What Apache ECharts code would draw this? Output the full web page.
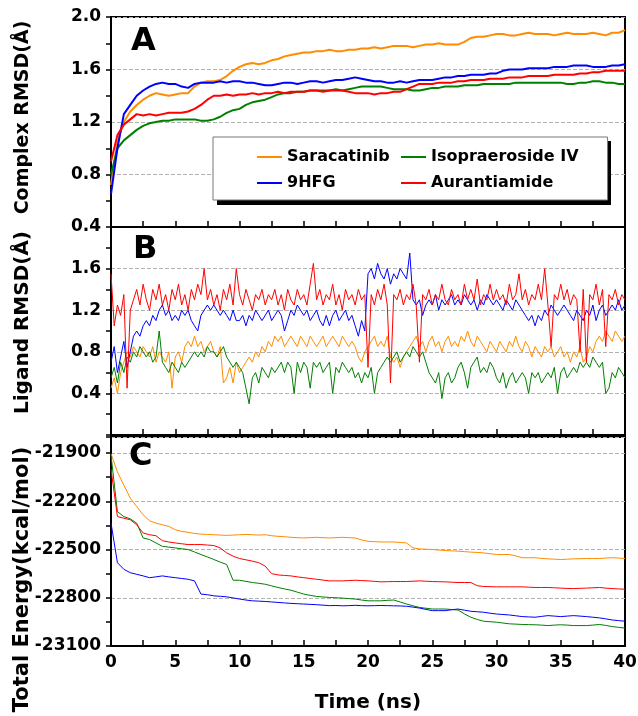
<!DOCTYPE html>
<html>
<head>
<meta charset="utf-8">
<script src="https://cdn.jsdelivr.net/npm/echarts@6/dist/echarts.min.js"></script>
<style>
  html, body { margin: 0; padding: 0; background: #fff; }
  #container { width: 638px; height: 716px; }
</style>
</head>
<body>
<div id="container"></div>
<script>
var names = ["Saracatinib", "Isopraeroside IV", "9HFG", "Aurantiamide"];
var colors = ["#ff8c00", "#008000", "#0000ff", "#ff0000"];
var font = "DejaVu Sans";

// sampling steps (ns)
var stepA = 0.5;
var stepB = 0.25;
var stepC = 0.5;

// A: complex RMSD, every 0.5 ns
var saraA = [
  0.72, 1.05, 1.20, 1.28, 1.33, 1.37, 1.40, 1.42, 1.41, 1.40,
  1.41, 1.42, 1.42, 1.47, 1.50, 1.51, 1.51, 1.52, 1.55, 1.59,
  1.62, 1.64, 1.65, 1.64, 1.65, 1.67, 1.68, 1.70, 1.71, 1.72,
  1.73, 1.73, 1.74, 1.74, 1.75, 1.74, 1.74, 1.75, 1.75, 1.76,
  1.76, 1.77, 1.76, 1.77, 1.78, 1.78, 1.78, 1.77, 1.78, 1.79,
  1.79, 1.80, 1.79, 1.79, 1.79, 1.81, 1.84, 1.85, 1.85, 1.86,
  1.87, 1.87, 1.86, 1.86, 1.87, 1.88, 1.87, 1.87, 1.87, 1.86,
  1.87, 1.88, 1.87, 1.87, 1.87, 1.88, 1.87, 1.86, 1.88, 1.88,
  1.90
];
var isoA = [
  0.80, 1.00, 1.06, 1.10, 1.14, 1.17, 1.19, 1.20, 1.21, 1.21,
  1.22, 1.22, 1.22, 1.22, 1.21, 1.21, 1.22, 1.24, 1.27, 1.29,
  1.30, 1.33, 1.35, 1.36, 1.37, 1.39, 1.41, 1.42, 1.42, 1.43,
  1.43, 1.44, 1.44, 1.44, 1.44, 1.45, 1.44, 1.45, 1.46, 1.47,
  1.47, 1.47, 1.47, 1.46, 1.45, 1.45, 1.45, 1.44, 1.44, 1.45,
  1.46, 1.46, 1.47, 1.47, 1.47, 1.48, 1.48, 1.48, 1.49, 1.49,
  1.49, 1.49, 1.49, 1.50, 1.50, 1.50, 1.50, 1.50, 1.50, 1.50,
  1.50, 1.49, 1.49, 1.50, 1.50, 1.51, 1.51, 1.50, 1.50, 1.49,
  1.49
];
var hfgA = [
  0.65, 1.00, 1.26, 1.33, 1.40, 1.44, 1.47, 1.49, 1.50, 1.49,
  1.49, 1.47, 1.46, 1.49, 1.50, 1.50, 1.50, 1.51, 1.50, 1.51,
  1.51, 1.50, 1.50, 1.49, 1.48, 1.48, 1.49, 1.50, 1.50, 1.49,
  1.50, 1.51, 1.51, 1.50, 1.51, 1.52, 1.52, 1.53, 1.54, 1.53,
  1.52, 1.51, 1.51, 1.50, 1.50, 1.51, 1.50, 1.51, 1.52, 1.52,
  1.52, 1.53, 1.54, 1.54, 1.55, 1.55, 1.56, 1.56, 1.56, 1.57,
  1.57, 1.59, 1.60, 1.60, 1.60, 1.61, 1.61, 1.61, 1.61, 1.62,
  1.62, 1.62, 1.63, 1.63, 1.63, 1.62, 1.62, 1.62, 1.63, 1.63,
  1.64
];
var auraA = [
  0.90, 1.10, 1.18, 1.22, 1.26, 1.25, 1.26, 1.25, 1.26, 1.27,
  1.27, 1.27, 1.28, 1.30, 1.33, 1.37, 1.40, 1.40, 1.41, 1.40,
  1.41, 1.41, 1.42, 1.41, 1.42, 1.42, 1.43, 1.42, 1.43, 1.43,
  1.43, 1.44, 1.44, 1.43, 1.44, 1.44, 1.44, 1.43, 1.42, 1.42,
  1.42, 1.41, 1.42, 1.42, 1.43, 1.43, 1.45, 1.47, 1.49, 1.49,
  1.49, 1.50, 1.50, 1.50, 1.51, 1.51, 1.52, 1.52, 1.52, 1.53,
  1.53, 1.53, 1.54, 1.54, 1.54, 1.55, 1.55, 1.55, 1.55, 1.56,
  1.56, 1.56, 1.56, 1.57, 1.57, 1.58, 1.58, 1.59, 1.59, 1.59,
  1.59
];

// B: ligand RMSD, every 0.25 ns
var saraB = [
  0.45, 0.55, 0.40, 0.60, 0.70, 0.80, 0.75, 0.85,
  0.80, 0.75, 0.85, 0.80, 0.75, 0.85, 0.70, 0.80,
  0.75, 0.70, 0.80, 0.45, 0.75, 0.80, 0.70, 0.85,
  0.90, 0.85, 0.95, 0.85, 0.90, 0.80, 0.85, 0.90,
  0.80, 0.75, 0.85, 0.50, 0.55, 0.65, 0.50, 0.70,
  0.60, 0.65, 0.70, 0.75, 0.70, 0.80, 0.75, 0.85,
  0.80, 0.90, 0.85, 0.95, 0.90, 0.95, 0.85, 0.90,
  0.95, 0.90, 0.85, 0.95, 0.90, 0.85, 0.95, 0.90,
  0.85, 0.90, 0.95, 0.85, 0.90, 0.95, 0.90, 0.85,
  0.95, 0.90, 0.85, 0.90, 0.85, 0.75, 0.70, 0.80,
  0.85, 0.90, 0.95, 0.85, 0.90, 0.85, 0.95, 0.75,
  0.70, 0.75, 0.65, 0.75, 0.80, 0.85, 0.90, 0.95,
  0.85, 0.90, 0.80, 0.90, 0.95, 0.85, 0.90, 0.80,
  0.90, 0.95, 0.85, 0.90, 0.85, 0.95, 0.90, 1.00,
  0.90, 0.85, 0.95, 0.90, 0.85, 0.80, 0.90, 0.85,
  0.80, 0.90, 0.85, 0.80, 0.90, 0.85, 0.95, 0.85,
  0.80, 0.90, 0.85, 0.75, 0.85, 0.80, 0.75, 0.85,
  0.80, 0.85, 0.75, 0.80, 0.85, 0.75, 0.80, 0.70,
  0.80, 0.75, 0.85, 0.70, 0.75, 0.85, 0.80, 0.90,
  0.95, 0.90, 1.00, 0.95, 0.90, 1.00, 0.95, 0.90,
  0.95
];
var isoB = [
  0.55, 0.65, 0.50, 0.70, 0.60, 0.75, 0.70, 0.80,
  0.75, 0.85, 0.80, 0.75, 0.80, 0.70, 0.75, 1.00,
  0.70, 0.65, 0.60, 0.70, 0.65, 0.60, 0.70, 0.65,
  0.70, 0.75, 0.80, 0.75, 0.80, 0.75, 0.85, 0.80,
  0.80, 0.75, 0.80, 0.85, 0.75, 0.70, 0.65, 0.70,
  0.65, 0.60, 0.45, 0.30, 0.55, 0.60, 0.50, 0.65,
  0.60, 0.55, 0.65, 0.60, 0.65, 0.70, 0.60, 0.70,
  0.65, 0.40, 0.70, 0.60, 0.70, 0.65, 0.45, 0.70,
  0.65, 0.70, 0.60, 0.65, 0.70, 0.40, 0.65, 0.60,
  0.70, 0.65, 0.60, 0.65, 0.55, 0.60, 0.50, 0.60,
  0.55, 0.65, 0.40, 0.60, 0.65, 0.70, 0.75, 0.70,
  0.75, 0.80, 0.70, 0.75, 0.80, 0.75, 0.85, 0.80,
  0.75, 0.80, 0.70, 0.60, 0.55, 0.50, 0.60, 0.35,
  0.55, 0.60, 0.50, 0.55, 0.65, 0.70, 0.60, 0.45,
  0.65, 0.70, 0.75, 0.60, 0.65, 0.60, 0.70, 0.65,
  0.55, 0.50, 0.60, 0.45, 0.55, 0.60, 0.50, 0.55,
  0.60, 0.55, 0.40, 0.60, 0.55, 0.60, 0.50, 0.55,
  0.60, 0.55, 0.65, 0.40, 0.60, 0.65, 0.55, 0.60,
  0.65, 0.60, 0.70, 0.65, 0.70, 0.65, 0.75, 0.70,
  0.65, 0.70, 0.40, 0.45, 0.60, 0.55, 0.65, 0.60,
  0.55
];
var hfgB = [
  0.70, 0.85, 0.60, 0.75, 0.90, 0.65, 0.80, 0.95,
  1.00, 0.95, 1.05, 1.10, 1.05, 1.15, 1.10, 1.20,
  1.25, 1.15, 1.20, 1.10, 1.15, 1.10, 1.20, 1.15,
  1.20, 1.10, 1.05, 1.00, 1.15, 1.20, 1.25, 1.20,
  1.25, 1.20, 1.15, 1.20, 1.15, 1.10, 1.20, 1.10,
  1.10, 1.15, 1.05, 1.15, 1.10, 1.20, 1.15, 1.10,
  1.15, 1.20, 1.10, 1.15, 1.20, 1.15, 1.00, 1.10,
  1.20, 1.15, 1.25, 1.20, 1.15, 1.20, 1.10, 1.15,
  1.20, 1.10, 1.05, 1.15, 1.05, 1.15, 1.20, 1.10,
  1.15, 1.20, 1.10, 1.15, 1.05, 0.95, 1.10, 1.00,
  1.55, 1.60, 1.50, 1.65, 1.55, 1.50, 1.60, 1.45,
  1.55, 1.50, 1.60, 1.55, 1.50, 1.75, 1.30, 1.25,
  1.30, 1.15, 1.25, 1.30, 1.25, 1.35, 1.20, 1.30,
  1.25, 1.30, 1.35, 1.25, 1.30, 1.25, 1.35, 1.30,
  1.25, 1.30, 1.20, 1.30, 1.25, 1.35, 1.30, 1.25,
  1.30, 1.25, 1.20, 1.30, 1.25, 1.20, 1.30, 1.25,
  1.20, 1.15, 1.10, 1.15, 1.05, 1.15, 1.10, 1.20,
  1.15, 1.25, 1.20, 1.15, 1.20, 1.25, 1.20, 1.15,
  1.10, 1.20, 1.15, 1.10, 1.20, 1.15, 1.25, 1.10,
  1.20, 1.25, 1.15, 1.20, 1.25, 1.20, 1.30, 1.20,
  1.25
];
var auraB = [
  1.55, 1.05, 1.25, 1.15, 1.35, 0.45, 1.20, 1.30,
  1.40, 1.25, 1.45, 1.30, 1.20, 1.40, 1.30, 1.45,
  1.25, 1.35, 1.20, 1.40, 1.30, 1.45, 1.25, 1.35,
  1.20, 1.40, 1.30, 1.45, 1.35, 1.60, 1.30, 1.40,
  1.25, 1.35, 1.20, 1.40, 1.30, 1.45, 1.25, 1.60,
  1.35, 1.25, 1.40, 1.30, 1.20, 1.35, 1.30, 1.40,
  1.25, 1.35, 1.30, 1.40, 1.25, 1.35, 1.20, 1.40,
  1.30, 1.25, 1.40, 1.30, 1.35, 1.25, 1.45, 1.65,
  1.30, 1.40, 1.25, 1.35, 1.30, 1.45, 1.25, 1.35,
  1.20, 1.40, 1.30, 1.35, 1.25, 1.40, 1.30, 1.35,
  0.65, 1.35, 1.25, 1.40, 1.30, 1.45, 1.25, 0.50,
  1.35, 1.30, 1.40, 1.25, 1.35, 1.30, 1.45, 1.25,
  0.70, 1.35, 1.30, 1.40, 1.25, 1.35, 1.30, 1.45,
  1.30, 1.25, 1.40, 1.30, 1.35, 1.25, 1.45, 1.30,
  1.40, 1.30, 1.50, 1.25, 1.35, 1.30, 1.45, 1.30,
  1.40, 1.30, 1.35, 1.25, 1.45, 1.30, 1.35, 1.55,
  1.30, 1.40, 1.25, 1.35, 1.30, 1.45, 1.30, 1.60,
  1.25, 0.85, 1.35, 1.30, 1.45, 1.30, 1.40, 1.25,
  1.35, 1.30, 0.80, 1.40, 0.70, 1.35, 1.30, 1.45,
  1.25, 1.40, 0.85, 1.35, 1.30, 1.40, 1.25, 1.35,
  1.30
];

// C: total energy, every 0.5 ns
var saraC = [
  -21904, -22017, -22100, -22180, -22233, -22284, -22321, -22336, -22346, -22356,
  -22377, -22387, -22393, -22400, -22404, -22406, -22408, -22410, -22412, -22410,
  -22408, -22406, -22408, -22410, -22408, -22414, -22418, -22420, -22424, -22426,
  -22428, -22426, -22424, -22426, -22428, -22426, -22424, -22426, -22428, -22440,
  -22449, -22451, -22453, -22453, -22453, -22456, -22459, -22490, -22496, -22498,
  -22500, -22503, -22506, -22508, -22510, -22513, -22516, -22518, -22521, -22526,
  -22531, -22531, -22531, -22540, -22551, -22551, -22551, -22555, -22558, -22560,
  -22562, -22560, -22558, -22557, -22556, -22556, -22556, -22553, -22551, -22553,
  -22556
];
var isoC = [
  -21914, -22264, -22295, -22309, -22336, -22428, -22438, -22459, -22480, -22485,
  -22490, -22495, -22500, -22515, -22531, -22546, -22562, -22578, -22593, -22691,
  -22691, -22698, -22705, -22710, -22716, -22726, -22736, -22745, -22753, -22765,
  -22777, -22785, -22792, -22795, -22798, -22800, -22802, -22805, -22808, -22814,
  -22819, -22819, -22819, -22816, -22814, -22826, -22839, -22850, -22860, -22865,
  -22870, -22870, -22870, -22873, -22876, -22900, -22921, -22935, -22946, -22949,
  -22952, -22957, -22962, -22964, -22966, -22967, -22968, -22970, -22973, -22970,
  -22968, -22970, -22973, -22973, -22973, -22970, -22966, -22972, -22979, -22984,
  -22989
];
var hfgC = [
  -22335, -22582, -22623, -22644, -22654, -22664, -22675, -22670, -22664, -22670,
  -22675, -22680, -22685, -22695, -22777, -22781, -22788, -22791, -22794, -22801,
  -22808, -22814, -22819, -22821, -22823, -22826, -22829, -22832, -22835, -22837,
  -22839, -22841, -22843, -22846, -22849, -22848, -22850, -22849, -22847, -22849,
  -22850, -22849, -22848, -22849, -22850, -22851, -22853, -22858, -22864, -22872,
  -22880, -22880, -22880, -22875, -22870, -22877, -22884, -22887, -22890, -22896,
  -22901, -22904, -22907, -22912, -22917, -22919, -22921, -22916, -22911, -22914,
  -22917, -22914, -22911, -22914, -22917, -22921, -22925, -22931, -22938, -22942,
  -22946
];
var auraC = [
  -22000, -22295, -22305, -22315, -22346, -22397, -22408, -22414, -22445, -22453,
  -22459, -22464, -22469, -22469, -22469, -22472, -22475, -22490, -22521, -22541,
  -22556, -22564, -22572, -22582, -22603, -22650, -22658, -22661, -22664, -22670,
  -22675, -22680, -22685, -22690, -22695, -22695, -22695, -22693, -22691, -22693,
  -22695, -22698, -22701, -22700, -22699, -22699, -22699, -22697, -22695, -22697,
  -22699, -22700, -22701, -22703, -22705, -22705, -22705, -22725, -22730, -22731,
  -22732, -22732, -22732, -22732, -22732, -22734, -22736, -22736, -22736, -22738,
  -22740, -22742, -22743, -22741, -22740, -22738, -22736, -22740, -22743, -22745,
  -22747
];

var panelA = [saraA, isoA, hfgA, auraA];
var panelB = [saraB, isoB, hfgB, auraB];
var panelC = [saraC, isoC, hfgC, auraC];

// pair each sample with its time
function pairs(values, step) {
  return values.map(function (v, i) {
    return [i * step, v];
  });
}

function xAxisFor(idx, last) {
  return {
    type: "value",
    gridIndex: idx,
    min: 0,
    max: 40,
    interval: 2.5,
    axisLine: { onZero: false, lineStyle: { color: "#000", width: 2 } },
    axisTick: { inside: true, length: 6, lineStyle: { color: "#000", width: 1.5 } },
    splitLine: { show: false },
    axisLabel: {
      show: last,
      margin: 8,
      fontSize: 17,
      fontFamily: font,
      fontWeight: "bold",
      color: "#000",
      formatter: function (v) {
        return v % 5 === 0 ? String(v) : "";
      },
    },
    name: last ? "Time (ns)" : "",
    nameLocation: "middle",
    nameGap: 47,
    nameTextStyle: { fontSize: 20, fontFamily: font, fontWeight: "bold", color: "#000" },
  };
}

function yAxisFor(idx, o) {
  return {
    type: "value",
    gridIndex: idx,
    min: o.min,
    max: o.max,
    interval: o.interval,
    axisLine: { show: true, lineStyle: { color: "#000", width: 2 } },
    axisTick: { show: true, length: 5, lineStyle: { color: "#000", width: 1.5 } },
    minorTick: { show: true, splitNumber: 2, length: 5, lineStyle: { color: "#000", width: 1.5 } },
    splitLine: { show: true, lineStyle: { type: "dashed", color: "#b0b0b0", width: 1 } },
    axisLabel: {
      margin: 10,
      fontSize: 17,
      fontFamily: font,
      fontWeight: "bold",
      color: "#000",
      showMinLabel: o.showMin,
      showMaxLabel: o.showMax,
      formatter: o.fmt,
    },
    name: o.name,
    nameLocation: "middle",
    nameGap: 78,
    nameMoveOverlap: false,
    nameTextStyle: {
      fontSize: o.nameSize,
      fontFamily: font,
      fontWeight: "bold",
      color: "#000",
      padding: o.namePad,
    },
  };
}

var series = [];
[panelA, panelB, panelC].forEach(function (panel, p) {
  var step = [stepA, stepB, stepC][p];
  panel.forEach(function (vals, k) {
    series.push({
      name: names[k],
      type: "line",
      xAxisIndex: p,
      yAxisIndex: p,
      symbol: "none",
      silent: true,
      lineStyle: { color: colors[k], width: p === 0 ? 2 : 1 },
      itemStyle: { color: colors[k] },
      data: pairs(vals, step),
    });
  });
});

var gridBase = { left: 111, right: 13, show: true, borderColor: "#000", borderWidth: 2, containLabel: false, outerBoundsMode: "none" };

var chart = echarts.init(document.getElementById("container"));
chart.setOption({
  animation: false,
  backgroundColor: "#fff",
  textStyle: { fontFamily: font },
  title: [
    { text: "A", left: 131, top: 26, padding: 0, textStyle: { fontSize: 32, fontFamily: font, fontWeight: "bold", color: "#000" } },
    { text: "B", left: 133, top: 234, padding: 0, textStyle: { fontSize: 32, fontFamily: font, fontWeight: "bold", color: "#000" } },
    { text: "C", left: 129, top: 441, padding: 0, textStyle: { fontSize: 32, fontFamily: font, fontWeight: "bold", color: "#000" } },
  ],
  // black drop shadow behind the legend box
  graphic: [
    { type: "rect", z: 1, silent: true, shape: { x: 217, y: 141, width: 394, height: 64 }, style: { fill: "#000" } },
  ],
  legend: {
    data: names,
    left: 213,
    top: 137,
    width: 340,
    padding: [12, 29, 9, 44],
    itemGap: 10,
    itemWidth: 25,
    itemHeight: 2,
    icon: "rect",
    selectedMode: false,
    z: 5,
    backgroundColor: "#fff",
    borderColor: "#777",
    borderWidth: 1,
    formatter: function (name) {
      return name === "Saracatinib" || name === "9HFG" ? "{w|" + name + "}" : name;
    },
    textStyle: {
      fontSize: 16,
      fontFamily: font,
      fontWeight: "bold",
      color: "#000",
      lineHeight: 16,
      rich: { w: { width: 104, fontSize: 16, fontFamily: font, fontWeight: "bold", color: "#000" } },
    },
  },
  grid: [
    Object.assign({ top: 17, height: 210 }, gridBase),
    Object.assign({ top: 227, height: 208 }, gridBase),
    Object.assign({ top: 437, height: 209 }, gridBase),
  ],
  xAxis: [xAxisFor(0, false), xAxisFor(1, false), xAxisFor(2, true)],
  yAxis: [
    yAxisFor(0, {
      min: 0.4, max: 2.0, interval: 0.4, showMin: true, showMax: true,
      fmt: function (v) { return v.toFixed(1); },
      name: "Complex RMSD(Å)", nameSize: 19, namePad: [0, 0, 0, 9],
    }),
    yAxisFor(1, {
      min: 0, max: 2.0, interval: 0.4, showMin: false, showMax: false,
      fmt: function (v) { return v.toFixed(1); },
      name: "Ligand RMSD(Å)", nameSize: 20, namePad: [0, 0, 0, 17],
    }),
    yAxisFor(2, {
      min: -23100, max: -21800, interval: 300, showMin: true, showMax: false,
      fmt: function (v) { return String(v); },
      name: "Total Energy(kcal/mol)", nameSize: 21, namePad: [0, 76, 0, 0],
    }),
  ],
  series: series,
});
</script>
</body>
</html>
